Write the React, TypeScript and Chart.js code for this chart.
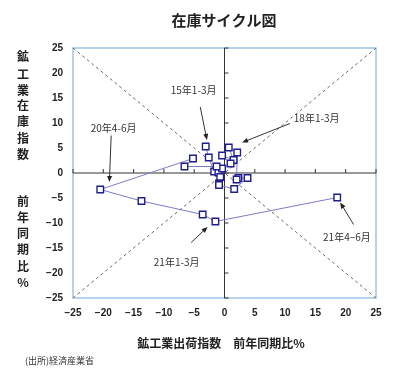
import React, { useEffect, useRef } from 'react';
import { Chart, registerables } from 'chart.js';

Chart.register(...registerables);

// Shipments YoY (%) and inventory YoY (%), quarterly, 2015 Q1 -> 2021 Q2
const shipmentYoY = [-3.1, -2.6, -1.7, -1.0, -0.7, -0.9, -0.9, 1.6, 3.8, 2.3, 2.0, 2.1, 0.7, 1.5, -0.4, 1.0, -0.4, -1.3, -6.6, -5.2, -20.5, -13.7, -3.6, -1.5, 18.6];
const inventoryYoY = [5.3, 3.1, 0.3, 0.1, -0.8, -2.1, -2.4, -3.2, -1.0, -1.0, -1.3, 4.1, 5.1, 2.6, 3.5, 1.9, 0.9, 1.3, 1.3, 2.9, -3.3, -5.6, -8.3, -9.7, -4.9];

const axisMin = -25;
const axisMax = 25;
const axisStep = 5;

const titleText = '在庫サイクル図';
const xTitleText = '鉱工業出荷指数　前年同期比%';
const yTitleTop = ['鉱', '工', '業', '在', '庫', '指', '数'];
const yTitleBottom = ['前', '年', '同', '期', '比', '%'];
const sourceText = '(出所)経済産業省';

// Annotation labels with text anchor and arrow (data units)
const annotationLabels = ['15年1-3月', '18年1-3月', '20年4-6月', '21年1-3月', '21年4−6月'];
const annotationTextAt = [[-5.1, 16.5], [15.2, 10.9], [-18.3, 8.9], [-7.9, -17.8], [20.2, -12.8]];
const arrowFrom = [[-4.0, 13.2], [10.8, 9.9], [-18.7, 7.5], [-5.5, -13.9], [21.3, -10.3]];
const arrowTo = [[-2.9, 6.6], [2.9, 6.1], [-19.0, -1.8], [-2.8, -10.8], [19.1, -5.9]];

const CJK = '"Noto Sans CJK JP", "Noto Sans", sans-serif';

const tickValues: number[] = [];
for (let v = axisMin; v <= axisMax; v += axisStep) tickValues.push(v);

const fmt = (v: number) => (v < 0 ? '−' + Math.abs(v) : String(v));

const decorPlugin = {
  id: 'decor',
  beforeDatasetsDraw(chart: any) {
    const { ctx, chartArea: a, scales } = chart;
    const x = scales.x;
    const y = scales.y;
    ctx.save();
    ctx.strokeStyle = '#9fc4e4';
    ctx.lineWidth = 1.5;
    ctx.strokeRect(a.left, a.top, a.right - a.left, a.bottom - a.top);
    const x0 = x.getPixelForValue(0);
    const y0 = y.getPixelForValue(0);
    ctx.strokeStyle = '#333';
    ctx.lineWidth = 1;
    ctx.beginPath();
    ctx.moveTo(a.left, y0);
    ctx.lineTo(a.right, y0);
    ctx.moveTo(x0, a.top);
    ctx.lineTo(x0, a.bottom);
    for (const v of tickValues) {
      const px = x.getPixelForValue(v);
      ctx.moveTo(px, y0);
      ctx.lineTo(px, y0 - 4);
      const py = y.getPixelForValue(v);
      ctx.moveTo(x0, py);
      ctx.lineTo(x0 + 4, py);
    }
    ctx.stroke();
    ctx.restore();
  },
  afterDraw(chart: any) {
    const { ctx, chartArea: a, scales } = chart;
    const x = scales.x;
    const y = scales.y;
    ctx.save();
    ctx.fillStyle = '#222';
    ctx.textAlign = 'center';
    ctx.textBaseline = 'middle';
    ctx.font = 'bold 15px ' + CJK;
    ctx.fillText(titleText, 224, 20);
    ctx.font = 'bold 12px ' + CJK;
    ctx.fillText(xTitleText, 221, 343);
    const topY = [56, 74, 90, 105, 121, 138, 154];
    yTitleTop.forEach((c, i) => ctx.fillText(c, 23, topY[i]));
    yTitleBottom.forEach((c, i) => ctx.fillText(c, 23, 201 + i * 16.3));
    ctx.font = '9px ' + CJK;
    ctx.fillStyle = '#333';
    ctx.textAlign = 'left';
    ctx.fillText(sourceText, 25, 361);

    // annotations
    ctx.font = '10px ' + CJK;
    ctx.textAlign = 'center';
    ctx.fillStyle = '#333';
    annotationLabels.forEach((t, i) => {
      ctx.fillText(t, x.getPixelForValue(annotationTextAt[i][0]), y.getPixelForValue(annotationTextAt[i][1]));
    });
    ctx.strokeStyle = '#333';
    ctx.lineWidth = 1;
    arrowFrom.forEach((f, i) => {
      const fx = x.getPixelForValue(f[0]);
      const fy = y.getPixelForValue(f[1]);
      const tx = x.getPixelForValue(arrowTo[i][0]);
      const ty = y.getPixelForValue(arrowTo[i][1]);
      const ang = Math.atan2(ty - fy, tx - fx);
      const hl = 6;
      const hw = 2.5;
      ctx.beginPath();
      ctx.moveTo(fx, fy);
      ctx.lineTo(tx - Math.cos(ang) * hl * 0.8, ty - Math.sin(ang) * hl * 0.8);
      ctx.stroke();
      ctx.beginPath();
      ctx.moveTo(tx, ty);
      const bx = tx - Math.cos(ang) * hl;
      const by = ty - Math.sin(ang) * hl;
      ctx.lineTo(bx + Math.sin(ang) * hw, by - Math.cos(ang) * hw);
      ctx.lineTo(bx - Math.sin(ang) * hw, by + Math.cos(ang) * hw);
      ctx.closePath();
      ctx.fillStyle = '#222';
      ctx.fill();
    });
    ctx.restore();
  },
};

export default function App() {
  const ref = useRef<HTMLCanvasElement | null>(null);
  useEffect(() => {
    if (!ref.current) return;
    const points = shipmentYoY.map((v, i) => ({ x: v, y: inventoryYoY[i] }));
    const diag = { borderColor: '#6a6a6a', borderWidth: 1, borderDash: [3, 3], pointRadius: 0, showLine: true, fill: false };
    const chart = new Chart(ref.current, {
      type: 'scatter',
      data: {
        datasets: [
          {
            data: points,
            showLine: true,
            borderColor: '#7c7cc4',
            borderWidth: 1,
            pointStyle: 'rect',
            pointRadius: 4.6,
            pointBorderColor: '#1e1e8e',
            pointBackgroundColor: '#ffffff',
            pointBorderWidth: 1.4,
          } as any,
          { ...diag, data: [{ x: axisMin, y: axisMin }, { x: axisMax, y: axisMax }] } as any,
          { ...diag, data: [{ x: axisMin, y: axisMax }, { x: axisMax, y: axisMin }] } as any,
        ],
      },
      options: {
        responsive: false,
        animation: false,
        layout: { padding: { top: 48, right: 24, left: 0, bottom: 0 } },
        plugins: { legend: { display: false }, tooltip: { enabled: false }, title: { display: false } },
        scales: {
          x: {
            type: 'linear',
            min: axisMin,
            max: axisMax,
            grid: { display: false, drawTicks: false },
            border: { display: false },
            ticks: {
              stepSize: axisStep,
              padding: 9,
              color: '#222',
              font: { size: 10, weight: 'bold', family: '"Liberation Sans", Arial, sans-serif' },
              callback: (v: any) => fmt(Number(v)),
            },
            afterFit: (s: any) => { s.height = 78; },
          },
          y: {
            type: 'linear',
            min: axisMin,
            max: axisMax,
            grid: { display: false, drawTicks: false },
            border: { display: false },
            ticks: {
              stepSize: axisStep,
              padding: 10,
              color: '#222',
              font: { size: 10, weight: 'bold', family: '"Liberation Sans", Arial, sans-serif' },
              callback: (v: any) => fmt(Number(v)),
            },
            afterFit: (s: any) => { s.width = 73; },
          },
        },
      } as any,
      plugins: [decorPlugin],
    });
    return () => chart.destroy();
  }, []);
  return (
    <div style={{ position: 'absolute', left: 0, top: 0, width: 400, height: 376, background: '#fff' }}>
      <canvas ref={ref} width={400} height={376} style={{ display: 'block' }} />
    </div>
  );
}
